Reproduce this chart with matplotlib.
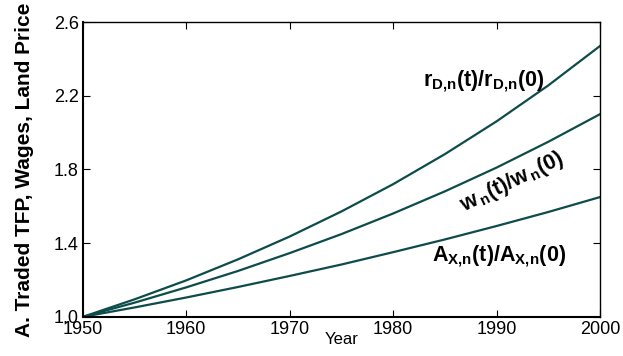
import matplotlib
matplotlib.use('Agg')
import matplotlib.pyplot as plt

# Valores (a cada 5 anos)
years = [1950, 1955, 1960, 1965, 1970, 1975, 1980, 1985, 1990, 1995, 2000]
land_price = [1.000, 1.095, 1.198, 1.312, 1.436, 1.572, 1.720, 1.883, 2.061, 2.256, 2.470]
wages = [1.000, 1.077, 1.160, 1.249, 1.346, 1.449, 1.561, 1.681, 1.810, 1.950, 2.100]
tfp = [1.000, 1.051, 1.105, 1.162, 1.222, 1.284, 1.351, 1.420, 1.493, 1.569, 1.650]

x_ticks = [1950, 1960, 1970, 1980, 1990, 2000]
y_ticks = [1.0, 1.4, 1.8, 2.2, 2.6]

plt.rcParams['font.family'] = ['Liberation Sans', 'DejaVu Sans']
plt.rcParams['mathtext.fontset'] = 'custom'
plt.rcParams['mathtext.rm'] = 'Liberation Sans:bold'
plt.rcParams['mathtext.it'] = 'Liberation Sans:bold'
plt.rcParams['mathtext.bf'] = 'Liberation Sans:bold'

cor = '#0d4c4a'

fig = plt.figure(figsize=(6.23, 3.56), dpi=100)
ax = fig.add_axes([0.133, 0.11, 0.83, 0.828])

ax.plot(years, land_price, color=cor, lw=1.6)
ax.plot(years, wages, color=cor, lw=1.6)
ax.plot(years, tfp, color=cor, lw=1.6)

ax.set_xlim(1950, 2000)
ax.set_ylim(1.0, 2.6)
ax.set_xticks(x_ticks)
ax.set_yticks(y_ticks)
ax.set_xticklabels([str(t) for t in x_ticks], fontsize=13)
ax.set_yticklabels(['%.1f' % t for t in y_ticks], fontsize=13)
ax.tick_params(direction='in', length=5, width=0.8)
ax.tick_params(axis='x', pad=3, top=True)
ax.tick_params(axis='y', pad=3, right=True)
for s in ax.spines.values():
    s.set_linewidth(1.0)
ax.spines['left'].set_linewidth(1.5)
ax.spines['bottom'].set_linewidth(1.5)

ax.set_xlabel('Year', fontsize=12, labelpad=-4)
ax.set_ylabel('A. Traded TFP, Wages, Land Price', fontsize=15, fontweight='bold', labelpad=14)

ax.text(1988.8, 2.28, r'r$_{D{,}n}$(t)/r$_{D{,}n}$(0)', fontsize=15.5, fontweight='bold',
        ha='center', va='center')
ax.text(1991.5, 1.73, r'w$_{\,n}$(t)/w$_{\,n}$(0)', fontsize=15.5, fontweight='bold',
        ha='center', va='center', rotation=26)
ax.text(1990.2, 1.33, r'A$_{X{,}n}$(t)/A$_{X{,}n}$(0)', fontsize=15.5, fontweight='bold',
        ha='center', va='center')

fig.savefig('out.png', dpi=100)
